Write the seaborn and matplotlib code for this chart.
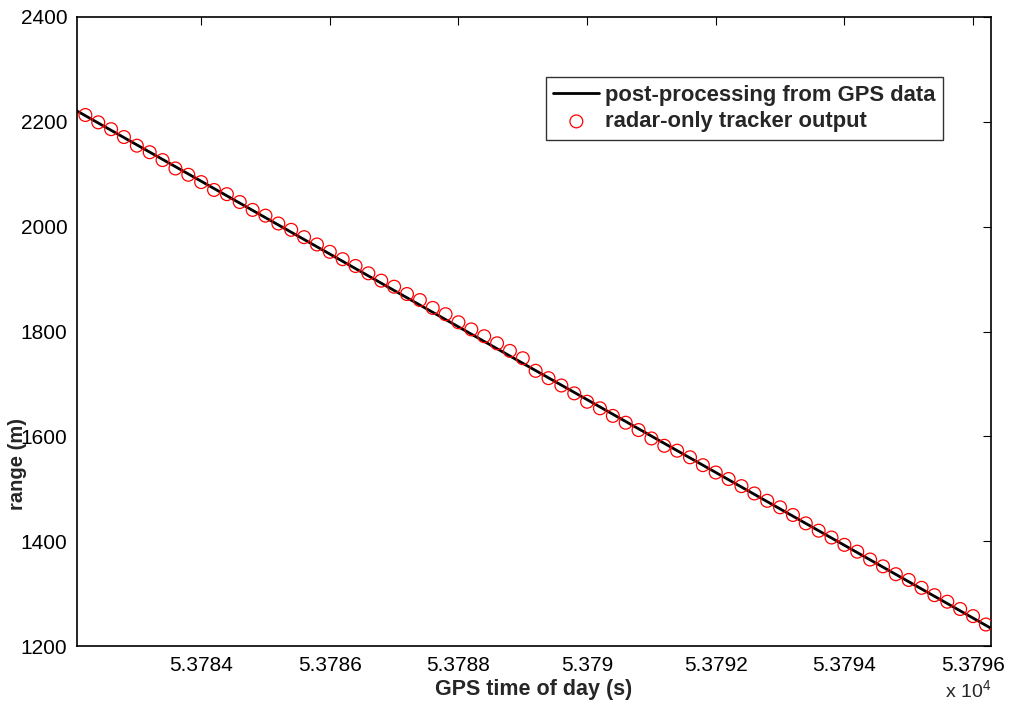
import numpy as np
import pandas as pd
import matplotlib
matplotlib.use("Agg")
import matplotlib.pyplot as plt
import seaborn as sns

# ---------------- data ----------------
# GPS post-processing reference (black line)
gps_time = [53782.07, 53783, 53784, 53785, 53786, 53787, 53788, 53789,
            53790, 53791, 53792, 53793, 53794, 53795, 53796, 53796.28]
gps_range = [2220.7, 2156.1, 2086.7, 2017.2, 1947.8, 1878.3, 1808.9, 1739.4,
             1670.0, 1600.5, 1531.1, 1461.6, 1392.2, 1322.7, 1253.3, 1233.8]

# radar-only tracker output (red circles), sampled every 0.2 s
radar_time = [round(53782.2 + 0.2 * i, 1) for i in range(71)]
radar_range = [2213, 2199, 2186, 2171, 2154.5, 2142, 2127, 2111, 2099, 2085,
               2070, 2062, 2047, 2032, 2021, 2006, 1994, 1980, 1966, 1952,
               1938, 1925, 1911, 1897, 1885.5, 1871.5, 1860, 1845, 1833, 1817.6,
               1804, 1791, 1777.5, 1763, 1749, 1725, 1711, 1697, 1682, 1666,
               1653.5, 1639, 1626, 1612, 1596, 1582, 1572.6, 1560, 1545, 1531,
               1518.6, 1505, 1491, 1477, 1464.6, 1450, 1434, 1420, 1407, 1393,
               1380, 1365, 1352, 1337, 1326, 1311, 1297, 1284.5, 1270.6, 1257,
               1241]

x_ticks = [53784, 53786, 53788, 53790, 53792, 53794, 53796]
x_tick_labels = ["5.3784", "5.3786", "5.3788", "5.379", "5.3792", "5.3794", "5.3796"]
y_ticks = [1200, 1400, 1600, 1800, 2000, 2200, 2400]

line_label = "post-processing from GPS data"
circle_label = "radar-only tracker output"

# ---------------- plot ----------------
sns.set_style("white")
plt.rcParams["font.family"] = ["Liberation Sans", "DejaVu Sans"]
plt.rcParams["mathtext.fontset"] = "custom"
plt.rcParams["mathtext.rm"] = "Liberation Sans"

fig = plt.figure(figsize=(10.12, 7.11), dpi=100)
ax = fig.add_axes([0.0761, 0.0914, 0.9032, 0.8847])

df_line = pd.DataFrame({"t": gps_time, "r": gps_range})
df_pts = pd.DataFrame({"t": radar_time, "r": radar_range})

sns.lineplot(data=df_line, x="t", y="r", ax=ax, color="black", linewidth=2.0,
             label=line_label)
sns.scatterplot(data=df_pts, x="t", y="r", ax=ax, marker="o", s=85,
                facecolors="none", edgecolor="red", linewidth=0.9,
                label=circle_label, zorder=3)

ax.set_xlim(gps_time[0], gps_time[-1])
ax.set_ylim(y_ticks[0], y_ticks[-1])
ax.set_xticks(x_ticks)
ax.set_xticklabels(x_tick_labels)
ax.set_yticks(y_ticks)
ax.tick_params(direction="in", length=6, width=0.8, top=True, right=True,
               labelsize=15, colors="black", pad=7)
for sp in ax.spines.values():
    sp.set_visible(True)
    sp.set_color("black")
    sp.set_linewidth(1.2)

ax.set_xlabel("GPS time of day (s)", fontsize=15.5, fontweight="bold")
ax.set_ylabel("range (m)", fontsize=14.5, fontweight="bold")
ax.xaxis.set_label_coords(0.5, -0.052)
ax.yaxis.set_label_coords(-0.055, 0.29)

fig.text(0.934, 0.012, r"x 10$^{4}$", fontsize=14, ha="left", va="bottom")

h, l = ax.get_legend_handles_labels()
leg = ax.legend(h, l, loc="upper right", bbox_to_anchor=(0.9475, 0.9046),
                borderaxespad=0, frameon=True, fancybox=False,
                prop={"weight": "bold", "size": 15.8}, handlelength=2.1,
                borderpad=0.35, labelspacing=0.25, handletextpad=0.25)
leg.get_frame().set_edgecolor("black")
leg.get_frame().set_linewidth(1.0)

fig.savefig("out.png", dpi=100, facecolor="white")
